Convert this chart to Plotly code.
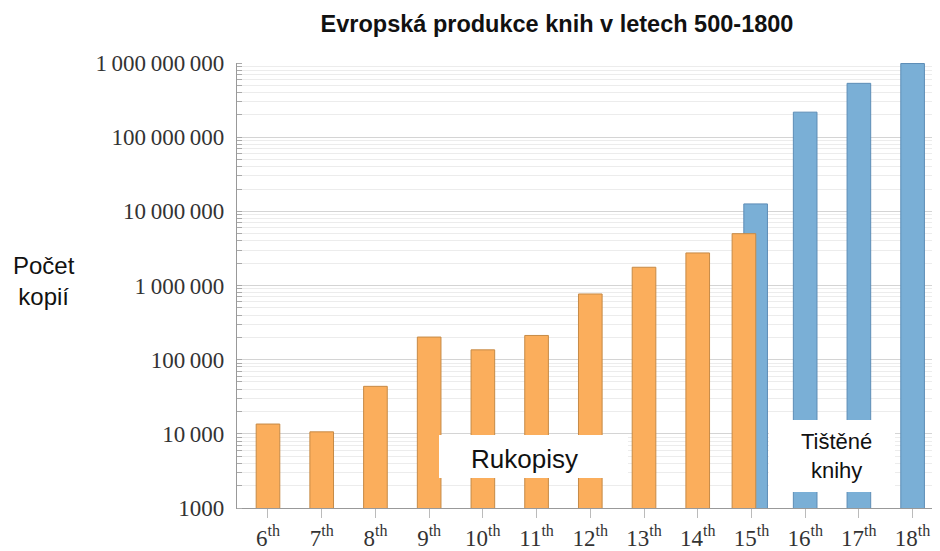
import plotly.graph_objects as go

# ---- data ----
centuries = ["6", "7", "8", "9", "10", "11", "12", "13", "14", "15", "16", "17", "18"]
manuscripts = [13552, 10639, 43702, 201742, 135637, 212030, 768721,
               1761951, 2746951, 4999161]
printed_centuries = ["15", "16", "17", "18"]
printed = [12589000, 217444000, 531941000, 983874000]
ytick_vals = [1e3, 1e4, 1e5, 1e6, 1e7, 1e8, 1e9]
ytick_text = ["1000", "10\u2009000", "100\u2009000", "1\u2009000\u2009000",
              "10\u2009000\u2009000", "100\u2009000\u2009000",
              "1\u2009000\u2009000\u2009000"]

idx = {c: i for i, c in enumerate(centuries)}
xt = [f"{c}<sup>th</sup>" for c in centuries]

# page body has an 8px margin -> figure drawn 8px right/down
OFF = 8
FW, FH = 940 - OFF, 551 - OFF
L, T = 237, 63          # plot area top-left in page pixels
W, H = 703.0, 445.0     # plot area size


def px(p):
    return (p - L) / W


def py(p):
    return (T + H - p) / H


bw = 0.44
man_x = [idx[c] for c in centuries[:len(manuscripts)]]
man_off = [-bw / 2 - (0.14 if centuries[i] == "15" else 0) for i in man_x]
pr_x = [idx[c] for c in printed_centuries]
pr_off = [-bw / 2 + (0.078 if c == "15" else 0) for c in printed_centuries]

fig = go.Figure()
fig.add_trace(go.Bar(
    x=pr_x, y=printed, width=bw, offset=pr_off,
    marker=dict(color="#7aafd6", line=dict(color="#5d8db6", width=1)),
    showlegend=False))
fig.add_trace(go.Bar(
    x=man_x, y=manuscripts, width=bw, offset=man_off,
    marker=dict(color="#fbae5c", line=dict(color="#c68a46", width=1)),
    showlegend=False))

serif = "Liberation Serif, DejaVu Serif, serif"
sans = "Liberation Sans, Arial, sans-serif"

fig.update_layout(
    width=FW, height=FH,
    margin=dict(l=L - OFF, r=0, t=T - OFF, b=FH - (T - OFF) - int(H)),
    plot_bgcolor="white", paper_bgcolor="white",
    barmode="overlay",
    title=dict(text="<b>Evropská produkce knih v letech 500-1800</b>",
               font=dict(family=sans, size=23.5, color="#111"),
               x=(557 - OFF) / FW, xanchor="center", xref="container",
               y=1 - (24 - OFF) / FH, yanchor="middle", yref="container"),
    xaxis=dict(
        range=[-0.577, 12.51],
        tickmode="array", tickvals=list(range(len(centuries))), ticktext=xt,
        tickfont=dict(family=serif, size=23, color="#333"),
        showgrid=False, zeroline=False,
        showline=True, linecolor="#999", linewidth=1.2,
        ticks="outside", ticklen=9, tickcolor="#bbb", tickwidth=1,
    ),
    yaxis=dict(
        type="log", range=[3, 9],
        tickmode="array", tickvals=ytick_vals, ticktext=ytick_text,
        tickfont=dict(family=serif, size=23, color="#333"),
        showgrid=True, gridcolor="#d4d4d4", gridwidth=1,
        zeroline=False,
        showline=True, linecolor="#999", linewidth=1.2,
        ticks="", ticklabelstandoff=7,
        minor=dict(dtick="D1", showgrid=True, gridcolor="#ececec",
                   ticks="inside", ticklen=5, tickcolor="#aaa"),
    ),
    shapes=[
        dict(type="rect", xref="paper", yref="paper",
             x0=px(439), x1=px(628), y0=py(478), y1=py(435),
             fillcolor="white", line=dict(width=0), layer="above"),
        dict(type="rect", xref="paper", yref="paper",
             x0=px(769), x1=px(895), y0=py(492), y1=py(420),
             fillcolor="white", line=dict(width=0), layer="above"),
    ],
    annotations=[
        dict(text="Rukopisy", xref="paper", yref="paper",
             x=px(524), y=py(459), xanchor="center", yanchor="middle",
             showarrow=False, font=dict(family=sans, size=26, color="#111")),
        dict(text="Tištěné<br>knihy", xref="paper", yref="paper",
             x=px(836), y=py(456), xanchor="center", yanchor="middle",
             showarrow=False, font=dict(family=sans, size=22, color="#111")),
        dict(text="Počet<br>kopií", xref="paper", yref="paper",
             x=px(44), y=py(281), xanchor="center", yanchor="middle",
             showarrow=False, font=dict(family=sans, size=24, color="#111")),
    ],
)

fig.write_html("out.html")
